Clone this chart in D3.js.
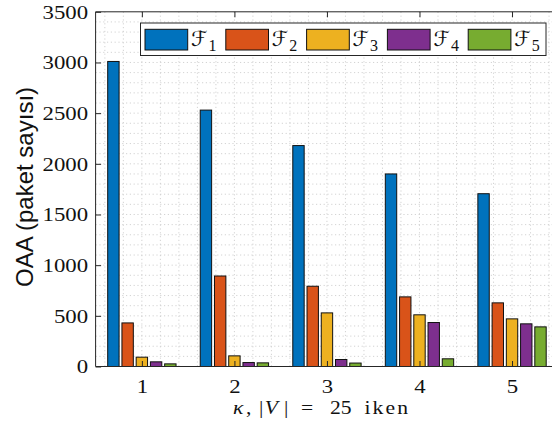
<!DOCTYPE html>
<html>
<head>
<meta charset="utf-8">
<script src="https://cdn.jsdelivr.net/npm/d3@7"></script>
<style>
  html, body { margin: 0; padding: 0; background: #ffffff; }
  svg { display: block; }
</style>
</head>
<body>
<svg id="chart" width="552" height="437"></svg>
<script>
// ---- data ----
const categories = [1, 2, 3, 4, 5];
const seriesNames = ["1", "2", "3", "4", "5"];
const F1 = [3010, 2530, 2180, 1900, 1705];
const F2 = [430, 893, 792, 687, 628];
const F3 = [92, 105, 529, 510, 470];
const F4 = [46, 39, 69, 434, 421];
const F5 = [26, 36, 34, 76, 391];
const yTicks = [0, 500, 1000, 1500, 2000, 2500, 3000, 3500];
const xTicks = [1, 2, 3, 4, 5];
const colors = ["#0072BD", "#D95319", "#EDB120", "#7E2F8E", "#77AC30"];
const series = [F1, F2, F3, F4, F5];

// ---- layout ----
const svg = d3.select("#chart");
const pLeft = 95.6, pRight = 558.3, pTop = 11.8, pBottom = 366.5;
const x = d3.scaleLinear().domain([0.5, 5.5]).range([pLeft, pRight]);
const y = d3.scaleLinear().domain([0, 3500]).range([pBottom, pTop]);
const axisColor = "#262626";
const serif = "'Liberation Serif', 'Times New Roman', serif";
const stretch = 1.2;

// plot background
svg.append("rect").attr("x", pLeft).attr("y", pTop)
  .attr("width", pRight - pLeft).attr("height", pBottom - pTop).attr("fill", "#fff");

// minor grid (dotted)
const grid = svg.append("g");
const xMinor = d3.range(3, 28).map(k => k * 0.2);
const yMinor = d3.range(1, 35).map(k => k * 100);
grid.selectAll("line.vx").data(xMinor).join("line")
  .attr("x1", d => x(d)).attr("x2", d => x(d))
  .attr("y1", pTop).attr("y2", pBottom)
  .attr("stroke", "#c8c8c8").attr("stroke-width", 0.8)
  .attr("stroke-dasharray", "1.2,2.6");
grid.selectAll("line.hy").data(yMinor).join("line")
  .attr("x1", pLeft).attr("x2", pRight)
  .attr("y1", d => y(d)).attr("y2", d => y(d))
  .attr("stroke", "#c8c8c8").attr("stroke-width", 0.8)
  .attr("stroke-dasharray", "1.2,2.6");

// bars
const nS = series.length;
const groupW = Math.min(0.8, nS / (nS + 1.5));
const slot = groupW / nS;
const barW = slot * 0.8;
const bars = svg.append("g");
series.forEach((vals, si) => {
  const off = (si - (nS - 1) / 2) * slot;
  bars.selectAll(null).data(vals.map((v, i) => ({ v, c: categories[i] }))).join("rect")
    .attr("x", d => x(d.c + off - barW / 2))
    .attr("width", d => x(d.c + off + barW / 2) - x(d.c + off - barW / 2))
    .attr("y", d => y(d.v))
    .attr("height", d => y(0) - y(d.v))
    .attr("fill", colors[si])
    .attr("stroke", "#111")
    .attr("stroke-width", 1);
});

// axes
const gAx = svg.append("g");
const yAxis = d3.axisLeft(y).tickValues(yTicks).tickSize(-5.5).tickPadding(8)
  .tickFormat(d3.format("d"));
const yg = gAx.append("g").attr("transform", `translate(${pLeft},0)`).call(yAxis);
const xAxis = d3.axisBottom(x).tickValues(xTicks).tickSize(-5.5).tickPadding(10)
  .tickFormat(d3.format("d"));
const xg = gAx.append("g").attr("transform", `translate(0,${pBottom})`).call(xAxis);
const xTopAx = d3.axisTop(x).tickValues(xTicks).tickSize(-5.5).tickFormat("");
const xtg = gAx.append("g").attr("transform", `translate(0,${pTop})`).call(xTopAx);
[yg, xg, xtg].forEach(g => {
  g.select(".domain").attr("stroke", axisColor).attr("stroke-width", 1);
  g.selectAll(".tick line").attr("stroke", axisColor).attr("stroke-width", 1);
  g.selectAll("text").attr("fill", "#111")
    .style("font-family", serif)
    .style("font-size", "19px");
});
yg.selectAll(".domain").attr("d", `M0,${pTop}V${pBottom}`);
xg.selectAll(".domain").attr("d", `M${pLeft},0H${pRight}`);
xtg.selectAll(".domain").attr("d", `M${pLeft},0H${pRight}`);
xg.selectAll("text").attr("dy", "0").attr("y", 27).attr("x", 0)
  .attr("transform", `scale(${stretch},1)`);
yg.selectAll("text").attr("dy", "0.33em").attr("x", -7.5 / stretch)
  .attr("transform", `scale(${stretch},1)`);

// y label
svg.append("text")
  .attr("transform", `translate(33,187) rotate(-90)`)
  .attr("text-anchor", "middle")
  .style("font-family", "'Liberation Sans', Arial, sans-serif")
  .style("font-size", "24px")
  .attr("fill", "#111")
  .text("OAA (paket sayısı)");

// x label (pieces placed like the LaTeX layout, horizontally stretched)
const xlg = svg.append("g").attr("transform", `translate(233,0) scale(${stretch},1)`);
const xl = xlg.append("text")
  .attr("y", 414)
  .style("font-family", serif)
  .style("font-size", "18px")
  .attr("fill", "#111");
xl.append("tspan").attr("x", 0).style("font-style", "italic").text("κ");
xl.append("tspan").attr("x", 10.8).text(",");
xl.append("tspan").attr("x", 21.7).text("|");
xl.append("tspan").attr("x", 26.5).style("font-style", "italic").text("V");
xl.append("tspan").attr("x", 42.5).text("|");
xl.append("tspan").attr("x", 56.7).text("=");
xl.append("tspan").attr("x", 80.8).text("25");
xl.append("tspan").attr("x", 109.5).style("letter-spacing", "1.8px").text("iken");

// legend
const lg = svg.append("g");
lg.append("rect").attr("x", 140.5).attr("y", 23).attr("width", 405.5).attr("height", 32.5)
  .attr("fill", "#fff").attr("stroke", axisColor).attr("stroke-width", 1);
seriesNames.forEach((nm, i) => {
  const sx = 145 + i * 80.8;
  lg.append("rect").attr("x", sx).attr("y", 29.3).attr("width", 42.7).attr("height", 20.7)
    .attr("fill", colors[i]).attr("stroke", "#111").attr("stroke-width", 1);
  const t = lg.append("text").attr("x", sx + 46).attr("y", 46)
    .style("font-family", "'DejaVu Serif', 'DejaVu Sans', serif")
    .style("font-size", "21px").attr("fill", "#111");
  t.append("tspan").text("ℱ");
  t.append("tspan").attr("dy", 5).attr("dx", 1)
    .style("font-family", serif).style("font-size", "16px").text(nm);
});
</script>
</body>
</html>
